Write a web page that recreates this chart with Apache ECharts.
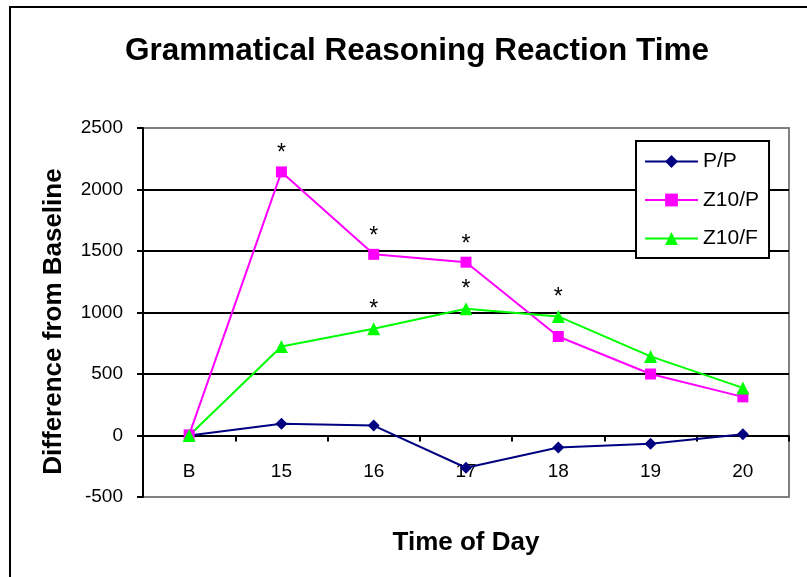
<!DOCTYPE html>
<html>
<head>
<meta charset="utf-8">
<script src="https://cdn.jsdelivr.net/npm/echarts@6/dist/echarts.min.js"></script>
<style>
  html, body { margin: 0; padding: 0; background: #fff; }
  #chart { width: 807px; height: 577px; }
</style>
</head>
<body>
<div id="chart"></div>
<script>
// time of day categories (B = baseline)
var categories = ['B', '15', '16', '17', '18', '19', '20'];

// difference from baseline, per group
var ppValues   = [0, 95, 81, -262, -97, -68, 10];
var z10pValues = [5, 2143, 1473, 1409, 805, 500, 314];
var z10fValues = [0, 724, 868, 1030, 968, 643, 387];

// significance marks (*) above points
var z10pSig = [0, 1, 1, 1, 0, 0, 0];
var z10fSig = [0, 0, 1, 1, 1, 0, 0];

var yTicks = [-500, 0, 500, 1000, 1500, 2000, 2500];

var FONT = '"Liberation Sans", Arial, sans-serif';

function withStars(values, sig) {
    return values.map(function (v, i) {
        return {
            value: v,
            label: { show: !!sig[i] }
        };
    });
}

var starLabel = {
    show: false,
    position: 'top',
    distance: 1,
    formatter: '*',
    fontSize: 23,
    fontFamily: FONT,
    color: '#000'
};

var myChart = echarts.init(document.getElementById('chart'));
var option = {
    animation: false,
    backgroundColor: '#fff',
    title: {
        text: 'Grammatical Reasoning Reaction Time',
        left: 412,
        textAlign: 'center',
        top: 30,
        textStyle: {
            fontFamily: FONT,
            fontSize: 31.5,
            fontWeight: 'bold',
            color: '#000'
        }
    },
    graphic: [
        {
            type: 'rect',
            shape: { x: 10, y: 7, width: 900, height: 700 },
            style: { fill: null, stroke: '#000', lineWidth: 2 },
            silent: true
        }
    ],
    legend: {
        orient: 'vertical',
        left: 636,
        top: 141,
        padding: [10, 10, 9, 8],
        itemGap: 17.5,
        itemWidth: 53,
        itemHeight: 16,
        backgroundColor: '#fff',
        borderColor: '#000',
        borderWidth: 2,
        borderRadius: 0,
        textStyle: {
            fontFamily: FONT,
            fontSize: 21,
            color: '#000'
        },
        data: ['P/P', 'Z10/P', 'Z10/F']
    },
    grid: {
        left: 143,
        right: 18,
        top: 128,
        bottom: 80,
        show: true,
        borderColor: '#808080',
        borderWidth: 2,
        containLabel: false,
        outerBoundsMode: 'none'
    },
    xAxis: {
        type: 'category',
        data: categories,
        name: 'Time of Day',
        nameLocation: 'middle',
        nameGap: 33,
        nameTextStyle: {
            fontFamily: FONT,
            fontSize: 26,
            fontWeight: 'bold',
            color: '#000'
        },
        axisLine: { onZero: true, lineStyle: { color: '#000', width: 2 } },
        axisTick: { show: true, length: 6, lineStyle: { color: '#000', width: 2 } },
        axisLabel: {
            margin: -35,
            fontFamily: FONT,
            fontSize: 19,
            color: '#000'
        },
        splitLine: { show: false }
    },
    yAxis: {
        type: 'value',
        min: yTicks[0],
        max: yTicks[yTicks.length - 1],
        interval: 500,
        name: 'Difference from Baseline',
        nameLocation: 'middle',
        nameGap: 76,
        nameTextStyle: {
            fontFamily: FONT,
            fontSize: 26,
            fontWeight: 'bold',
            color: '#000',
            padding: [0, 18, 0, 0]
        },
        axisLine: { show: true, lineStyle: { color: '#000', width: 2 } },
        axisTick: { show: true, length: 6, lineStyle: { color: '#000', width: 2 } },
        axisLabel: {
            margin: 20,
            fontFamily: FONT,
            fontSize: 19,
            color: '#000',
            formatter: function (v) { return String(v); }
        },
        splitLine: {
            show: true,
            showMinLine: false,
            showMaxLine: false,
            lineStyle: { color: '#000', width: 2 }
        }
    },
    series: [
        {
            name: 'P/P',
            type: 'line',
            data: ppValues,
            symbol: 'diamond',
            symbolSize: 12,
            lineStyle: { color: '#000080', width: 2 },
            itemStyle: { color: '#000080' }
        },
        {
            name: 'Z10/P',
            type: 'line',
            data: withStars(z10pValues, z10pSig),
            symbol: 'rect',
            symbolSize: 11,
            lineStyle: { color: '#FF00FF', width: 2 },
            itemStyle: { color: '#FF00FF' },
            label: starLabel
        },
        {
            name: 'Z10/F',
            type: 'line',
            data: withStars(z10fValues, z10fSig),
            symbol: 'triangle',
            symbolSize: [13, 13],
            lineStyle: { color: '#00FF00', width: 2 },
            itemStyle: { color: '#00FF00' },
            label: starLabel
        }
    ]
};
myChart.setOption(option);
</script>
</body>
</html>
